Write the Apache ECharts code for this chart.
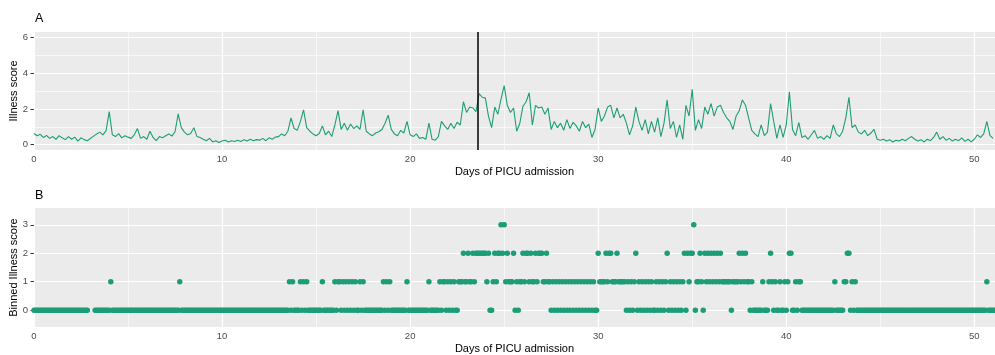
<!DOCTYPE html>
<html>
<head>
<meta charset="utf-8">
<script src="https://cdn.jsdelivr.net/npm/echarts@6/dist/echarts.min.js"></script>
<style>
html,body{margin:0;padding:0;background:#ffffff;}
#chart{width:995px;height:355px;}
</style>
</head>
<body>
<div id="chart"></div>
<script>
// Panel A sampling: 6 readings per day (every 4 hours), starting at day 0
const scoreSamplesPerDay = 6;

// Panel A: illness score (one row per day, 6 readings each)
const illnessScore = [
  0.62, 0.5, 0.58, 0.4, 0.52, 0.35,   // day 0
  0.45, 0.3, 0.5, 0.38, 0.28, 0.45,   // day 1
  0.3, 0.42, 0.2, 0.38, 0.28, 0.22,   // day 2
  null, null, 0.6, 0.7, 0.55, 0.78,   // day 3
  1.85, 0.55, 0.45, 0.62, 0.38, 0.5,  // day 4
  0.42, 0.35, 0.55, 0.9, 0.35, 0.45,  // day 5
  0.3, 0.75, 0.4, 0.22, 0.45, 0.38,   // day 6
  0.5, 0.6, 0.48, 0.72, 1.72, 0.95,   // day 7
  0.7, 0.55, 0.62, 0.95, 0.45, 0.4,   // day 8
  0.3, 0.22, 0.35, 0.15, 0.22, 0.12,  // day 9
  0.2, 0.25, 0.15, 0.22, 0.18, 0.25,  // day 10
  0.18, 0.28, 0.2, 0.3, 0.22, 0.28,   // day 11
  0.25, 0.35, 0.22, 0.38, 0.3, 0.42,  // day 12
  0.45, 0.6, 0.5, 0.75, 1.5, 0.9,     // day 13
  0.8, 1.3, 1.95, 0.95, 0.75, 0.6,    // day 14
  0.5, 0.62, 1.05, 0.55, 0.75, 0.45,  // day 15
  1.1, 1.9, 0.85, 1.2, 0.8, 1.15,     // day 16
  0.9, 1.05, 0.85, 1.95, 0.75, 0.6,   // day 17
  0.5, 0.65, 0.72, 0.85, 1.2, 1.65,   // day 18
  0.85, 0.6, 0.5, 0.8, 0.65, 1.3,     // day 19
  0.55, 0.45, 0.6, 0.35, 0.4, 0.3,    // day 20
  1.2, 0.3, 0.25, 0.45, 1.3, 1.05,    // day 21
  0.85, 1.2, 0.9, 1.25, 1.1, 2.4,     // day 22
  1.8, 2.1, 2.05, 1.85, 2.85, 2.65,   // day 23
  2.6, 1.6, 0.95, 2.1, 1.7, 2.55,     // day 24
  3.3, 2.2, 1.8, 2.05, 0.75, 1.2,     // day 25
  2.15, 2.4, 2.9, 1.1, 2.2, 2.05,     // day 26
  2.1, 1.7, 2.05, 0.85, 1.3, 0.95,    // day 27
  1.2, 0.8, 1.4, 0.9, 1.25, 1.05,     // day 28
  0.75, 1.3, 0.95, 1.15, 0.4, 0.85,   // day 29
  2.05, 1.3, 1.6, 2.1, 2.2, 1.5,      // day 30
  2.05, 1.5, 1.7, 1.2, 0.55, 1.05,    // day 31
  2.1, 1.3, 0.8, 1.4, 0.6, 1.3,       // day 32
  0.7, 1.5, 0.45, 1.2, 2.5, 0.9,      // day 33
  1.3, 0.4, 1.1, 0.3, 2.2, 1.6,       // day 34
  3.1, 0.8, 1.4, 0.9, 2.1, 1.7,       // day 35
  2.3, 1.6, 2.1, 2.2, 1.8, 1.5,       // day 36
  1.3, 0.85, 1.6, 1.9, 2.5, 2.2,      // day 37
  1.5, 0.8, 0.6, 0.45, 1.1, 0.5,      // day 38
  0.7, 2.3, 1.3, 0.35, 1.1, 0.4,      // day 39
  1.1, 2.95, 0.85, 0.5, 1.25, 0.4,    // day 40
  0.5, 0.3, 0.55, 0.8, 0.35, 0.45,    // day 41
  0.3, 0.5, 0.35, 1.1, 0.6, 0.45,     // day 42
  0.75, 1.5, 2.65, 0.95, 1.1, 0.7,    // day 43
  0.6, 0.8, 0.5, 0.65, 0.85, 0.3,     // day 44
  0.25, 0.3, 0.2, 0.28, 0.15, 0.25,   // day 45
  0.2, 0.3, 0.22, 0.35, 0.45, 0.3,    // day 46
  0.2, 0.28, 0.15, 0.3, 0.22, 0.4,    // day 47
  0.7, 0.3, 0.45, 0.25, 0.35, 0.2,    // day 48
  0.3, 0.22, 0.38, 0.18, 0.3, 0.15,   // day 49
  0.3, 0.55, 0.4, 0.6, 1.3, 0.5,      // day 50
  0.35                                // day 51
];

// Panel B sampling: 12 readings per day (every 2 hours), starting at day 0
const binnedSamplesPerDay = 12;

// Panel B: binned illness score (one row per day, 12 readings each)
const binnedScore = [
  0,0,0,0,0,0,0,0,0,0,0,0,          // day 0
  0,0,0,0,0,0,0,0,0,0,0,0,          // day 1
  0,0,0,0,0,0,0,0,0,0,0,null,       // day 2
  null,null,null,0,0,0,0,0,0,0,0,0, // day 3
  0,1,0,0,0,0,0,0,0,0,0,0,          // day 4
  0,0,0,0,0,0,0,0,0,0,0,0,          // day 5
  0,0,0,0,0,0,0,0,0,0,0,0,          // day 6
  0,0,0,0,0,0,0,0,0,1,0,0,          // day 7
  0,0,0,0,0,0,0,0,0,0,0,0,          // day 8
  0,0,0,0,0,0,0,0,0,0,0,0,          // day 9
  0,0,0,0,0,0,0,0,0,0,0,0,          // day 10
  0,0,0,0,0,0,0,0,0,0,0,0,          // day 11
  0,0,0,0,0,0,0,0,0,0,0,0,          // day 12
  0,0,0,0,0,0,0,1,0,1,0,0,          // day 13
  0,0,1,0,1,0,1,0,0,0,0,0,          // day 14
  0,0,0,0,1,0,0,0,0,0,0,0,          // day 15
  1,0,1,1,0,1,0,1,0,1,0,1,          // day 16
  0,1,0,0,1,0,1,0,0,0,0,0,          // day 17
  0,0,0,0,0,0,0,1,0,1,0,1,          // day 18
  0,0,0,0,0,0,0,0,0,0,1,0,          // day 19
  0,0,0,0,0,0,0,0,0,0,0,0,          // day 20
  1,0,0,0,0,0,0,1,0,1,1,0,          // day 21
  1,0,1,0,1,0,0,1,1,1,2,1,          // day 22
  1,2,1,1,2,1,2,2,2,2,2,2,          // day 23
  2,1,2,0,0,1,2,1,2,2,3,2,          // day 24
  3,1,2,1,1,1,2,0,1,0,1,1,          // day 25
  2,1,2,2,1,2,1,1,2,1,2,2,          // day 26
  2,1,1,2,1,1,0,1,0,1,0,1,          // day 27
  0,1,0,1,0,1,0,1,0,1,0,1,          // day 28
  0,1,0,1,0,1,0,1,0,1,0,0,          // day 29
  2,1,1,1,1,2,1,2,2,1,1,1,          // day 30
  2,1,1,1,1,1,0,1,0,1,0,1,          // day 31
  2,0,1,0,1,0,1,0,1,0,1,0,          // day 32
  0,1,0,1,0,1,0,1,2,0,1,0,          // day 33
  1,0,1,0,1,0,1,2,0,2,1,2,          // day 34
  2,3,0,1,1,2,1,0,2,1,2,1,          // day 35
  2,1,2,1,2,1,2,1,1,1,1,1,          // day 36
  1,0,1,1,1,1,2,1,2,1,2,1,          // day 37
  1,0,1,0,0,0,0,0,0,1,0,0,          // day 38
  0,1,2,1,0,1,0,0,1,0,0,1,          // day 39
  0,1,2,2,0,0,1,0,1,1,0,0,          // day 40
  0,0,0,0,0,0,0,0,0,0,0,0,          // day 41
  0,0,0,0,0,0,0,1,0,0,0,0,          // day 42
  0,1,1,2,2,0,1,0,1,0,0,0,          // day 43
  0,0,0,0,0,0,0,0,0,0,0,0,          // day 44
  0,0,0,0,0,0,0,0,0,0,0,0,          // day 45
  0,0,0,0,0,0,0,0,0,0,0,0,          // day 46
  0,0,0,0,0,0,0,0,0,0,0,0,          // day 47
  0,0,0,0,0,0,0,0,0,0,0,0,          // day 48
  0,0,0,0,0,0,0,0,0,0,0,0,          // day 49
  0,0,0,0,0,0,0,0,1,0,0,0,          // day 50
  0,0                               // day 51
];

// Axes / ticks
const xTicks = [0, 10, 20, 30, 40, 50];
const xMinorTicks = [5, 15, 25, 35, 45];
const xRange = [0, 51.1];
const yTicksA = [0, 2, 4, 6];
const yMinorTicksA = [1, 3, 5];
const yRangeA = [-0.3, 6.3];
const yTicksB = [0, 1, 2, 3];
const yRangeB = [-0.59, 3.59];
const eventDay = [23.58];

const xTitle = 'Days of PICU admission';
const yTitleA = 'Illness score';
const yTitleB = 'Binned Illness score';
const panelTags = ['A', 'B'];

const GREEN = '#1B9E77';
const FONT = '"Liberation Sans", Arial, Helvetica, sans-serif';

const lineData = illnessScore.map((v, i) => [i / scoreSamplesPerDay, v]);
const pointData = [];
binnedScore.forEach((b, i) => { if (b !== null) pointData.push([i / binnedSamplesPerDay, b]); });

function gridLineData(xMaj, xMin, yMaj, yMin) {
  const d = [];
  xMin.forEach(v => d.push({ xAxis: v, lineStyle: { width: 0.6 } }));
  yMin.forEach(v => d.push({ yAxis: v, lineStyle: { width: 0.6 } }));
  xMaj.forEach(v => d.push({ xAxis: v, lineStyle: { width: 1.2 } }));
  yMaj.forEach(v => d.push({ yAxis: v, lineStyle: { width: 1.2 } }));
  return d;
}

function xAxisCfg(gridIndex) {
  return {
    type: 'value', gridIndex: gridIndex, min: xRange[0], max: xRange[1],
    axisLine: { show: false },
    axisTick: { show: true, length: 3.5, customValues: xTicks, lineStyle: { color: '#333333', width: 1 } },
    axisLabel: { customValues: xTicks, color: '#4D4D4D', fontSize: 9.5, margin: 4, fontFamily: FONT },
    splitLine: { show: false },
    name: xTitle, nameLocation: 'middle', nameGap: 16,
    nameTextStyle: { color: '#000000', fontSize: 11, fontFamily: FONT }
  };
}
function yAxisCfg(gridIndex, range, ticks) {
  return {
    type: 'value', gridIndex: gridIndex, min: range[0], max: range[1],
    axisLine: { show: false },
    axisTick: { show: true, length: 3.5, customValues: ticks, lineStyle: { color: '#333333', width: 1 } },
    axisLabel: { customValues: ticks, color: '#4D4D4D', fontSize: 9.5, margin: 6, fontFamily: FONT },
    splitLine: { show: false }
  };
}
function gridSeries(idx, yMaj, yMin) {
  return {
    type: 'line', xAxisIndex: idx, yAxisIndex: idx, data: [], z: 1, silent: true,
    markLine: {
      silent: true, z: 1, symbol: ['none', 'none'], animation: false,
      label: { show: false }, emphasis: { disabled: true },
      lineStyle: { color: '#FFFFFF', type: 'solid', opacity: 1 },
      data: gridLineData(xTicks, xMinorTicks, yMaj, yMin)
    }
  };
}
function yTitle(text, cy) {
  return {
    type: 'text', x: 14, y: cy, rotation: Math.PI / 2, silent: true,
    style: {
      text: text, fontSize: 11, fill: '#000000', fontFamily: FONT,
      align: 'center', verticalAlign: 'middle', textAlign: 'center', textVerticalAlign: 'middle'
    }
  };
}

const chart = echarts.init(document.getElementById('chart'), null, { renderer: 'canvas' });
chart.setOption({
  animation: false,
  backgroundColor: '#FFFFFF',
  textStyle: { fontFamily: FONT },
  grid: [
    { left: 34, top: 32, width: 961, height: 118, show: true, backgroundColor: '#EBEBEB', borderWidth: 0, containLabel: false, outerBoundsMode: 'none' },
    { left: 34, top: 208, width: 961, height: 119, show: true, backgroundColor: '#EBEBEB', borderWidth: 0, containLabel: false, outerBoundsMode: 'none' }
  ],
  graphic: [
    { type: 'text', left: 35, top: 12, style: { text: panelTags[0], fontSize: 12.5, fill: '#000', fontFamily: FONT } },
    { type: 'text', left: 35, top: 189, style: { text: panelTags[1], fontSize: 12.5, fill: '#000', fontFamily: FONT } },
    yTitle(yTitleA, 91),
    yTitle(yTitleB, 267.5)
  ],
  xAxis: [xAxisCfg(0), xAxisCfg(1)],
  yAxis: [
    yAxisCfg(0, yRangeA, yTicksA),
    yAxisCfg(1, yRangeB, yTicksB)
  ],
  series: [
    gridSeries(0, yTicksA, yMinorTicksA),
    gridSeries(1, yTicksB, []),
    {
      type: 'line', xAxisIndex: 0, yAxisIndex: 0, data: lineData, z: 2,
      showSymbol: false, connectNulls: true, silent: true,
      lineStyle: { color: GREEN, width: 1.1 }, itemStyle: { color: GREEN }
    },
    {
      type: 'line', xAxisIndex: 0, yAxisIndex: 0, data: [], z: 3, silent: true,
      markLine: {
        silent: true, z: 6, symbol: ['none', 'none'], animation: false,
        label: { show: false }, emphasis: { disabled: true },
        lineStyle: { color: '#000000', type: 'solid', width: 1.5 },
        data: eventDay.map(d => ({ xAxis: d }))
      }
    },
    {
      type: 'scatter', xAxisIndex: 1, yAxisIndex: 1, data: pointData, z: 2,
      symbol: 'circle', symbolSize: 5.5, silent: true,
      itemStyle: { color: GREEN, opacity: 1 }
    }
  ]
});
</script>
</body>
</html>
